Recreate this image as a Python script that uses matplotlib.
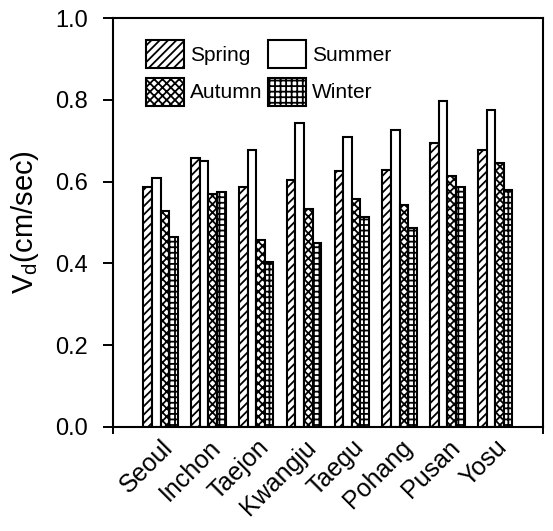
import matplotlib
matplotlib.use("Agg")
import matplotlib.pyplot as plt
import matplotlib.transforms as mtransforms
import numpy as np

plt.rcParams['font.family'] = ['Liberation Sans', 'DejaVu Sans']
plt.rcParams['hatch.linewidth'] = 1.3

cities = ["Seoul", "Inchon", "Taejon", "Kwangju", "Taegu", "Pohang", "Pusan", "Yosu"]
spring = [0.588, 0.657, 0.588, 0.604, 0.626, 0.628, 0.694, 0.678]
summer = [0.608, 0.651, 0.678, 0.744, 0.708, 0.727, 0.796, 0.775]
autumn = [0.529, 0.570, 0.457, 0.533, 0.557, 0.543, 0.614, 0.645]
winter = [0.464, 0.575, 0.403, 0.449, 0.513, 0.486, 0.586, 0.580]
seasons = ["Spring", "Summer", "Autumn", "Winter"]
hatches = ["////", "", "xxxx", "+++"]

fig = plt.figure(figsize=(5.53, 5.31), dpi=100)
ax = fig.add_axes([0.204, 0.196, 0.778, 0.770])

x = np.arange(1, len(cities) + 1)
w = 0.18
handles = {}
for i, (vals, h, name) in enumerate(zip([spring, summer, autumn, winter], hatches, seasons)):
    b = ax.bar(x + (i - 1.5) * w, vals, w, color="white", edgecolor="black",
               linewidth=1.5, hatch=h, label=name)
    handles[name] = b

ax.set_xlim(0, 9)
ax.set_ylim(0, 1.0)
yt = np.arange(0, 1.01, 0.2)
ax.set_yticks(yt)
ax.set_yticklabels([f"{v:.1f}" for v in yt], fontsize=17)
ax.set_xticks(np.arange(0, 10), minor=True)
ax.set_xticks(x)
ax.set_xticklabels(cities, rotation=45, ha="right", rotation_mode="anchor", fontsize=18)
offset = mtransforms.ScaledTranslation(6 / 100, 0, fig.dpi_scale_trans)
for lab in ax.get_xticklabels():
    lab.set_transform(lab.get_transform() + offset)
ax.tick_params(axis="x", which="major", length=0, pad=6)
ax.tick_params(axis="x", which="minor", direction="inout", length=10, width=1.4)
ax.tick_params(axis="y", direction="out", length=7, width=1.4, pad=11)
for s in ax.spines.values():
    s.set_linewidth(1.5)
ax.set_ylabel(r"V$_\mathregular{d}$(cm/sec)", fontsize=21, labelpad=10)

order = ["Spring", "Autumn", "Summer", "Winter"]
ax.legend(handles=[handles[n] for n in order], labels=order, ncol=2,
          frameon=False, loc="upper left", bbox_to_anchor=(0.077, 0.946),
          borderpad=0, borderaxespad=0, fontsize=15, handlelength=1.83,
          handleheight=1.7, handletextpad=0.3, columnspacing=0.25,
          labelspacing=0.45)

fig.savefig("out.png", dpi=100)
